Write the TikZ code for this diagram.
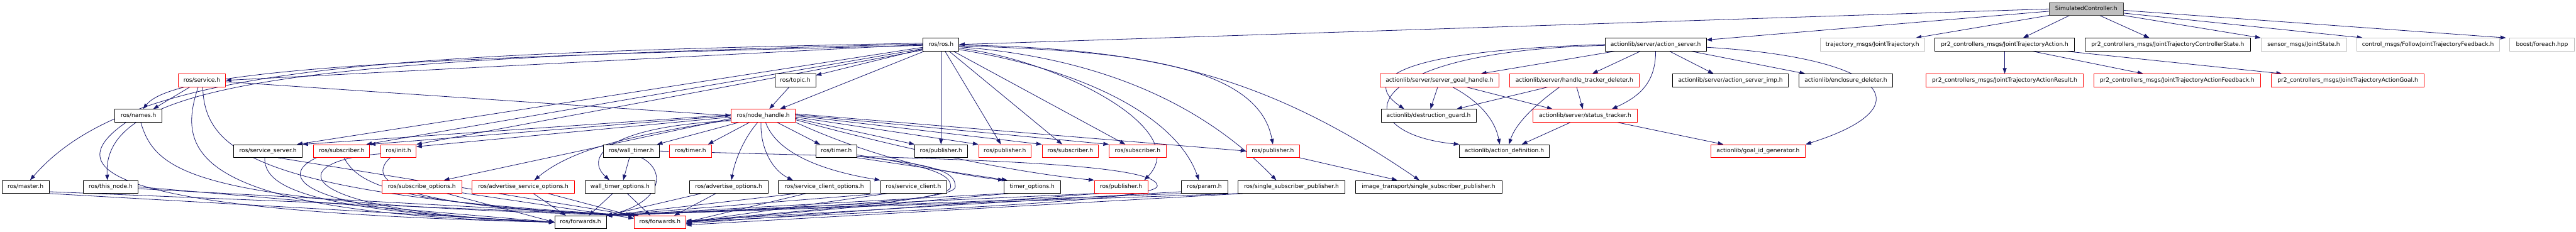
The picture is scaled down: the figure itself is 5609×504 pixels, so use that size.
\documentclass[tikz,border=0pt]{standalone}
\usepackage{fontspec}
\setmainfont{DejaVu Sans}
\usetikzlibrary{arrows.meta}
\definecolor{edgec}{HTML}{191970}
\definecolor{grayb}{HTML}{BFBFBF}
\definecolor{dkg}{HTML}{404040}
\pgfdeclarelayer{back}
\pgfdeclarelayer{bg}
\pgfsetlayers{back,bg,main}
\tikzset{
 box/.style={draw, line width=1.1bp, inner sep=0pt, minimum height=28bp, fill=white,
   font=\fontsize{12.5bp}{15bp}\selectfont, text=black, text height=9.5bp, text depth=3bp},
 blk/.style={draw=black},
 redb/.style={draw=red},
 gry/.style={draw=grayb},
 scst/.style={draw=dkg, fill=grayb, minimum height=27bp},
 e/.style={draw=edgec, line width=1.1bp, -{Triangle[length=12bp,width=8.5bp]}},
}
\newcommand\nd[6]{\node[box,#5,minimum width={(#3-#2)*1bp}] (#1) at ({(#2+#3)/2},#4) {#6};}
\begin{document}
\begin{tikzpicture}[x=1bp,y=-1bp]
\begin{pgfonlayer}{back}
\fill[white] (0,0) rectangle (5609,504);
\end{pgfonlayer}
\useasboundingbox (0,0) rectangle (5609,504);
% row 0
\nd{sc}{4462}{4623}{19.5}{scst}{SimulatedController.h}
% row 1
\nd{ros}{2010}{2088}{97}{blk}{ros/ros.h}
\nd{as}{3495}{3715}{97}{blk}{actionlib/server/action\_server.h}
\nd{tj}{3963}{4191}{97}{gry}{trajectory\_msgs/JointTrajectory.h}
\nd{jta}{4213}{4517}{97}{blk}{pr2\_controllers\_msgs/JointTrajectoryAction.h}
\nd{jtcs}{4540}{4900}{97}{blk}{pr2\_controllers\_msgs/JointTrajectoryControllerState.h}
\nd{js}{4923}{5109}{97}{gry}{sensor\_msgs/JointState.h}
\nd{cm}{5131}{5442}{97}{gry}{control\_msgs/FollowJointTrajectoryFeedback.h}
\nd{bf}{5465}{5605}{97}{gry}{boost/foreach.hpp}
% row 2
\nd{service}{388}{491}{175}{redb}{ros/service.h}
\nd{topic}{1687}{1776}{175}{blk}{ros/topic.h}
\nd{sgh}{3005}{3264}{175}{redb}{actionlib/server/server\_goal\_handle.h}
\nd{htd}{3287}{3569}{175}{redb}{actionlib/server/handle\_tracker\_deleter.h}
\nd{asi}{3642}{3894}{175}{blk}{actionlib/server/action\_server\_imp.h}
\nd{ed}{3917}{4121}{175}{blk}{actionlib/enclosure\_deleter.h}
\nd{jtar}{4194}{4536}{175}{redb}{pr2\_controllers\_msgs/JointTrajectoryActionResult.h}
\nd{jtaf}{4559}{4922}{175}{redb}{pr2\_controllers\_msgs/JointTrajectoryActionFeedback.h}
\nd{jtag}{4946}{5278}{175}{redb}{pr2\_controllers\_msgs/JointTrajectoryActionGoal.h}
% row 3
\nd{names}{250}{353}{252}{blk}{ros/names.h}
\nd{nh}{1592}{1732}{252}{redb}{ros/node\_handle.h}
\nd{dg}{3007}{3214}{252}{blk}{actionlib/destruction\_guard.h}
\nd{st}{3338}{3565}{252}{redb}{actionlib/server/status\_tracker.h}
% row 4
\nd{ss}{509}{658}{329}{blk}{ros/service\_server.h}
\nd{sub1}{683}{805}{329}{redb}{ros/subscriber.h}
\nd{init}{829}{906}{329}{redb}{ros/init.h}
\nd{wt}{1314}{1435}{329}{blk}{ros/wall\_timer.h}
\nd{timerR}{1458}{1549}{329}{redb}{ros/timer.h}
\nd{timerB}{1776}{1866}{329}{blk}{ros/timer.h}
\nd{pubB}{1992}{2106}{329}{blk}{ros/publisher.h}
\nd{pub1}{2131}{2245}{329}{redb}{ros/publisher.h}
\nd{sub2}{2269}{2392}{329}{redb}{ros/subscriber.h}
\nd{sub3}{2415}{2539}{329}{redb}{ros/subscriber.h}
\nd{pub2}{2714}{2829}{329}{redb}{ros/publisher.h}
\nd{ad}{3178}{3373}{329}{blk}{actionlib/action\_definition.h}
\nd{gid}{3725}{3931}{329}{redb}{actionlib/goal\_id\_generator.h}
% row 5
\nd{master}{4}{107}{407}{blk}{ros/master.h}
\nd{thisnode}{181}{301}{407}{blk}{ros/this\_node.h}
\nd{so}{832}{1005}{407}{redb}{ros/subscribe\_options.h}
\nd{aso}{1028}{1251}{407}{redb}{ros/advertise\_service\_options.h}
\nd{wto}{1274}{1426}{407}{blk}{wall\_timer\_options.h}
\nd{ao}{1501}{1672}{407}{blk}{ros/advertise\_options.h}
\nd{sco}{1695}{1894}{407}{blk}{ros/service\_client\_options.h}
\nd{sc2}{1917}{2061}{407}{blk}{ros/service\_client.h}
\nd{to}{2186}{2309}{407}{blk}{timer\_options.h}
\nd{pub3}{2383}{2499}{407}{redb}{ros/publisher.h}
\nd{param}{2572}{2673}{407}{blk}{ros/param.h}
\nd{ssp}{2696}{2928}{407}{blk}{ros/single\_subscriber\_publisher.h}
\nd{itssp}{2951}{3270}{407}{blk}{image\_transport/single\_subscriber\_publisher.h}
% row 6
\nd{fwB}{1208}{1320}{484}{blk}{ros/forwards.h}
\nd{fwR}{1381}{1493}{484}{redb}{ros/forwards.h}

\begin{pgfonlayer}{bg}
% SimulatedController
\draw[e] (sc.west) -- (ros.east);
\draw[e] ([yshift=-5bp]sc.west) -- ([yshift=10bp]as.east);
\draw[e] (sc.south west) -- ([xshift=-20bp]tj.north east);
\draw[e] ([xshift=45bp]sc.south west) -- ([xshift=40bp]jta.north);
\draw[e] ([xshift=110bp]sc.south west) -- ([xshift=-40bp]jtcs.north);
\draw[e] (sc.south east) -- (js.north west);
\draw[e] ([yshift=5bp]sc.south east) -- ([xshift=14bp]cm.north west);
\draw[e] ([yshift=-3bp]sc.east) -- ([xshift=-8bp]bf.north west);
% JointTrajectoryAction
\draw[e] (jta) -- (jtar);
\draw[e] ([xshift=60bp]jta.south) -- ([xshift=-74bp]jtaf.north);
\draw[e] ([xshift=-20bp]jta.south east) -- ([xshift=23bp]jtag.north west);
% action_server
\draw[e] ([xshift=-88bp]as.south) -- ([xshift=-40bp]sgh.north east);
\draw[e] ([xshift=-33bp]as.south) -- ([xshift=39bp]htd.north);
\draw[e] ([xshift=30bp]as.south) -- ([xshift=-37bp]asi.north);
\draw[e] ([xshift=-34bp]as.south east) -- ([xshift=14bp]ed.north west);
\draw[e] (as.south) .. controls (3605,180) and (3570,210) .. ([xshift=58bp]st.north);
\draw[e] ([yshift=-6bp]as.east) .. controls (4100,125) and (4200,230) .. (gid.north east);
\draw[e] (as.west) .. controls (3050,110) and (2960,170) .. ([xshift=-53bp]dg.north);
\draw[e] ([yshift=-2bp]as.west) .. controls (2940,112) and (2930,290) .. (ad.north west);
% server_goal_handle
\draw[e] ([xshift=-4bp]sgh.south) -- ([xshift=4bp]dg.north);
\draw[e] ([xshift=28bp]sgh.south) .. controls (3220,220) and (3255,260) .. ([xshift=-10bp]ad.north);
\draw[e] ([xshift=58bp]sgh.south) -- ([xshift=43bp]st.north west);
% handle_tracker_deleter
\draw[e] ([xshift=-57bp]htd.south) -- ([xshift=-43bp]dg.north east);
\draw[e] ([xshift=-32bp]htd.south) .. controls (3340,230) and (3300,270) .. ([xshift=10bp]ad.north);
\draw[e] ([xshift=5bp]htd.south) -- ([xshift=-5bp]st.north);
% status_tracker
\draw[e] ([xshift=-32bp]st.south) -- ([xshift=-60bp]ad.north east);
\draw[e] ([xshift=70bp]st.south) -- ([xshift=28bp]gid.north west);
% publisher -> image_transport
\draw[e] (pub2.south east) -- ([xshift=92bp]itssp.north west);
% ros.h
\draw[e] (ros) -- (topic);
\draw[e] (ros) -- (nh);
\draw[e] (ros) -- (pubB);
\draw[e] (ros) -- (pub1);
\draw[e] (ros) -- (sub2);
\draw[e] (ros) -- (sub3);
\draw[e] ([yshift=-8bp]ros.east) .. controls (2300,130) and (2600,280) .. ([xshift=-8bp]pub3.north east);
\draw[e] ([yshift=-11bp]ros.east) .. controls (2350,150) and (2560,250) .. ([xshift=-12bp]param.north);
\draw[e] ([yshift=-5bp]ros.east) .. controls (2450,130) and (2650,260) .. ([xshift=-33bp]ssp.north);
\draw[e] ([yshift=-3bp]ros.east) .. controls (2450,110) and (2740,140) .. (pub2.north);
\draw[e] ([yshift=-1bp]ros.east) .. controls (2500,105) and (2750,160) .. ([xshift=-20bp]itssp.north);
\draw[e] (ros.west) -- (service.east);
\draw[e] ([yshift=-2bp]ros.west) .. controls (900,125) and (380,150) .. ([xshift=10bp]names.north);
\draw[e] ([yshift=3bp]ros.west) .. controls (800,118) and (280,145) .. ([xshift=10bp]master.north);
\draw[e] ([yshift=1bp]ros.west) .. controls (700,128) and (220,170) .. ([xshift=-7bp]thisnode.north);
\draw[e] ([yshift=-6bp]ros.west) -- ([xshift=-12bp]ss.north east);
\draw[e] ([yshift=-9bp]ros.west) -- ([xshift=-8bp]sub1.north east);
\draw[e] ([yshift=-12bp]ros.west) -- (init.north east);
% service.h
\draw[e] ([xshift=-26bp]service.south) -- ([xshift=32bp]names.north);
\draw[e] ([yshift=-3bp]service.east) -- (nh.west);
\draw[e] ([xshift=-8bp]service.south) .. controls (385,330) and (410,465) .. (fwB.west);
\draw[e] ([xshift=2bp]service.south) .. controls (445,330) and (560,425) .. ([xshift=10bp]fwR.north west);
% names.h
\draw[e] ([xshift=-27bp]names.south) .. controls (140,360) and (170,460) .. (fwB.west);
\draw[e] ([xshift=5bp]names.south) .. controls (340,380) and (430,445) .. (fwR.north west);
% master, this_node
\draw[e] (master.south east) -- (fwB.west);
\draw[e] ([yshift=4bp]master.south east) -- (fwR.north west);
\draw[e] (thisnode.east) -- (fwB.west);
\draw[e] ([yshift=-4bp]thisnode.east) -- (fwR.north west);
% row 4 left
\draw[e] ([xshift=-7bp]ss.south) .. controls (575,400) and (640,460) .. (fwB.west);
\draw[e] ([xshift=22bp]ss.south) -- (fwR.north west);
\draw[e] ([xshift=-55bp]sub1.south) .. controls (610,380) and (620,460) .. (fwB.west);
\draw[e] ([xshift=5bp]sub1.south) .. controls (780,400) and (850,445) .. (fwR.north west);
\draw[e] ([yshift=-6bp]init.west) .. controls (620,350) and (610,460) .. (fwB.west);
\draw[e] ([xshift=-18bp]init.south) .. controls (800,390) and (840,450) .. (fwR.north west);
% row 5
\draw[e] (so) -- (fwB.west);
\draw[e] (so) -- (fwR);
\draw[e] ([xshift=22bp]aso.south) -- ([xshift=-32bp]fwB.north);
\draw[e] ([xshift=54bp]aso.south) -- ([xshift=-6bp]fwR.north west);
\draw[e] ([xshift=-16bp]wto.south) -- ([xshift=18bp]fwB.north);
\draw[e] ([xshift=16bp]wto.south) -- ([xshift=-21bp]fwR.north);
\draw[e] ([xshift=-60bp]ao.south) -- (fwB.north east);
\draw[e] ([xshift=-28bp]ao.south) -- ([xshift=31bp]fwR.north);
% wall_timer
\draw[e] ([xshift=-4bp]wt.south) -- ([xshift=7bp]wto.north);
\draw[e] ([xshift=22bp]wt.south) .. controls (1450,370) and (1445,440) .. (fwB.north east);
\draw[e] (wt.east) .. controls (2000,345) and (2520,350) .. (2520,405) .. controls (2520,440) and (1900,460) .. (fwR.east);
% timer
\draw[e] (timerB.south east) -- ([xshift=8bp]to.north west);
\draw[e] ([yshift=3bp]timerB.south east) .. controls (2060,360) and (2080,380) .. (2080,407) .. controls (2080,440) and (1700,455) .. (fwB.north east);
\draw[e] ([yshift=6bp]timerB.south east) .. controls (2050,365) and (2070,385) .. (2070,407) .. controls (2070,440) and (1700,460) .. (fwR.east);
% right row 5 -> forwards
\draw[e] ([xshift=-60bp]sco.south) -- (fwB.north east);
\draw[e] ([xshift=-40bp]sco.south) -- (fwR.east);
\draw[e] (sc2.south west) -- (fwB.north east);
\draw[e] ([xshift=15bp]sc2.south west) -- (fwR.east);
\draw[e] (to.south west) -- (fwB.north east);
\draw[e] ([xshift=10bp]to.south west) -- (fwR.east);
\draw[e] (pub3.south west) -- (fwB.north east);
\draw[e] ([xshift=10bp]pub3.south west) -- ([yshift=-3bp]fwR.east);
\draw[e] (param.south west) -- (fwB.north east);
\draw[e] ([yshift=4bp]param.south west) -- ([yshift=3bp]fwR.east);
\draw[e] (ssp.south west) -- (fwB.north east);
\draw[e] ([xshift=10bp]ssp.south west) -- ([yshift=-6bp]fwR.east);
% node_handle
\draw[e] (topic) -- (nh);
\draw[e] ([yshift=2bp]nh.west) -- (ss.north east);
\draw[e] (nh.west) -- (sub1.north east);
\draw[e] ([yshift=-3bp]nh.west) -- ([yshift=-5bp]init.north east);
\draw[e] ([yshift=-6bp]nh.west) -- ([xshift=48bp]so.north);
\draw[e] ([yshift=-9bp]nh.west) .. controls (1400,290) and (1250,320) .. ([xshift=24bp]aso.north);
\draw[e] ([yshift=-11bp]nh.west) .. controls (1330,275) and (1270,340) .. ([xshift=-23bp]wto.north);
\draw[e] ([xshift=-53bp]nh.south) -- ([xshift=-5bp]wt.north east);
\draw[e] ([xshift=-30bp]nh.south) -- ([xshift=-8bp]timerR.north east);
\draw[e] ([xshift=-12bp]nh.south) .. controls (1620,300) and (1600,350) .. ([xshift=6bp]ao.north);
\draw[e] ([xshift=-5bp]nh.south) .. controls (1655,320) and (1680,370) .. ([xshift=-68bp]sco.north);
\draw[e] ([xshift=5bp]nh.south) .. controls (1690,330) and (1780,370) .. (sc2.north west);
\draw[e] ([xshift=30bp]nh.south) -- ([xshift=10bp]timerB.north west);
\draw[e] ([yshift=-6bp]nh.east) -- (pubB.north west);
\draw[e] ([yshift=-3bp]nh.east) -- (pub1.north west);
\draw[e] (nh.east) -- (sub2.north west);
\draw[e] ([yshift=2bp]nh.east) -- (sub3.north west);
\draw[e] ([yshift=4bp]nh.east) -- (pub2.west);
\draw[e] (nh.south east) .. controls (1850,320) and (2000,370) .. (to.north west);
\draw[e] ([yshift=-9bp]nh.east) .. controls (1950,320) and (2200,375) .. (pub3.north west);
\end{pgfonlayer}
\end{tikzpicture}
\end{document}
